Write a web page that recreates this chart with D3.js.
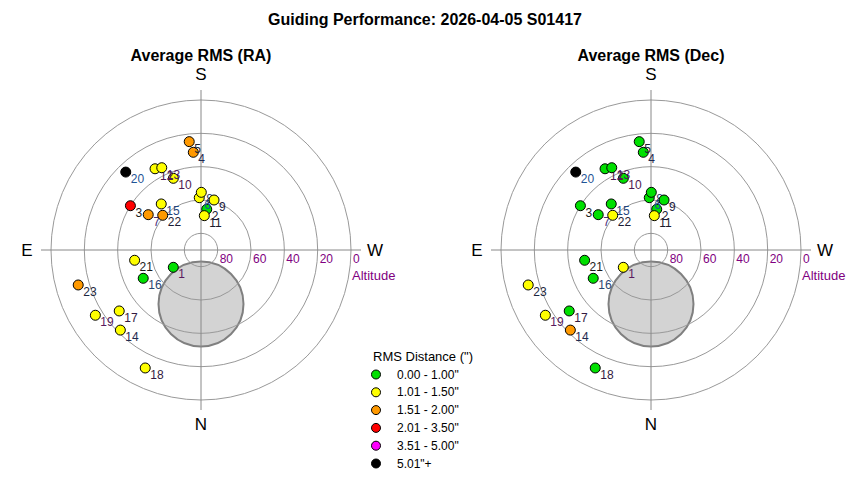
<!DOCTYPE html>
<meta charset="utf-8">
<style>
body { margin: 0; background: #fff; }
text { font-family: Arial, "Liberation Sans", sans-serif; }
</style>
<script src="https://d3js.org/d3.v7.min.js"></script>
<body>
<script>

// guide targets: id, altitude (deg), azimuth (deg, N=0 E=90)
var pointIds = [1,2,3,4,5,6,7,8,9,10,11,12,13,14,15,16,17,18,19,20,21,22,23];
var altitude = [70.4,65.3,40.0,31.2,24.6,58.6,51.9,55.4,59.0,43.9,69.3,34.0,35.3,21.8,53.5,51.4,28.8,11.7,15.5,25.0,49.7,59.0,13.4];
var azimuth  = [58.0,188.0,122.1,175.5,173.8,178.1,123.8,180.3,194.6,158.9,185.5,150.5,154.5,45.2,139.2,63.9,53.3,25.3,58.3,136.0,81.2,132.2,74.1];

// RMS band index per target (0 = best .. 5 = worst)
var raBand  = [0,0,3,2,2,1,2,1,1,1,1,1,1,1,1,0,1,1,1,5,1,2,2];
var decBand = [1,0,0,0,0,0,0,0,0,0,1,0,0,2,0,0,0,0,1,5,0,1,1];

var labelColors = ["#5a1a5e","#1a1a3a","#1a1a1a","#1f2a50","#222230","#1f5596","#4a2f78","#22335e","#22223e","#4e1850",
                   "#1a1a2a","#4e1850","#4e1a5e","#1f2a50","#1f4680","#2a4672","#331a42","#331a42","#5a1a5e","#1f5596",
                   "#1a1a1a","#1a1a34","#1a2640"];

var bandLabels = ['0.00 - 1.00"','1.01 - 1.50"','1.51 - 2.00"','2.01 - 3.50"','3.51 - 5.00"','5.01"+'];
var bandColors = ["#00e000","#ffff00","#ff9900","#ff0000","#ff00ff","#000000"];

var altRings = [80, 60, 40, 20, 0];

// shaded zone
var zoneAlt = 57.6, zoneAz = 0, zoneRadius = 25.5;

var width = 850, height = 480;

var svg = d3.select("body").append("svg")
    .attr("width", width)
    .attr("height", height);

svg.append("text")
    .attr("x", 425).attr("y", 25)
    .attr("text-anchor", "middle")
    .style("font-size", "16px").style("font-weight", "bold")
    .text("Guiding Performance: 2026-04-05 S01417");

var rScale = d3.scaleLinear().domain([90, 0]).range([0, 150]);

function project(alt, az) {
  var r = rScale(alt), a = az * Math.PI / 180;
  return [-r * Math.sin(a), r * Math.cos(a)];
}

function drawPolar(cx, title, bands) {
  var g = svg.append("g").attr("transform", "translate(" + cx + ",250)");

  svg.append("text")
    .attr("x", cx).attr("y", 61)
    .attr("text-anchor", "middle")
    .style("font-size", "16px").style("font-weight", "bold")
    .text(title);

  var zc = project(zoneAlt, zoneAz);
  g.append("circle")
    .attr("cx", zc[0]).attr("cy", zc[1])
    .attr("r", rScale(90 - zoneRadius))
    .attr("fill", "#d3d3d3")
    .attr("stroke", "#808080")
    .attr("stroke-width", 2);

  g.selectAll(".ring")
    .data(altRings)
    .enter().append("circle")
    .attr("r", function(d) { return rScale(d); })
    .attr("fill", "none")
    .attr("stroke", "#999")
    .attr("stroke-width", 1);

  g.append("line").attr("x1", 0).attr("x2", 0).attr("y1", -160).attr("y2", 160)
    .attr("stroke", "#888");
  g.append("line").attr("x1", -160).attr("x2", 160).attr("y1", 0).attr("y2", 0)
    .attr("stroke", "#888");

  g.selectAll(".ringLabel")
    .data(altRings)
    .enter().append("text")
    .attr("x", function(d) { return rScale(d) + 2; })
    .attr("y", 13)
    .attr("fill", "#800080")
    .style("font-size", "12px")
    .text(function(d) { return d; });

  g.append("text")
    .attr("x", 151).attr("y", 30)
    .attr("fill", "#800080")
    .style("font-size", "13px")
    .text("Altitude");

  var dirs = [["S", 0, -170], ["N", 0, 180], ["E", -174, 6], ["W", 174, 6]];
  g.selectAll(".dir")
    .data(dirs)
    .enter().append("text")
    .attr("x", function(d) { return d[1]; })
    .attr("y", function(d) { return d[2]; })
    .attr("text-anchor", "middle")
    .style("font-size", "17px")
    .text(function(d) { return d[0]; });

  var pts = g.selectAll(".pt")
    .data(pointIds)
    .enter().append("g")
    .attr("transform", function(d, i) {
      var p = project(altitude[i], azimuth[i]);
      return "translate(" + p[0] + "," + p[1] + ")";
    });

  pts.append("circle")
    .attr("r", 5)
    .attr("fill", function(d, i) { return bandColors[bands[i]]; })
    .attr("stroke", "#000")
    .attr("stroke-width", 1);

  pts.append("text")
    .attr("x", 5).attr("y", 11)
    .attr("fill", function(d, i) { return labelColors[i]; })
    .style("font-size", "12px")
    .text(function(d) { return d; });
}

drawPolar(201, "Average RMS (RA)", raBand);
drawPolar(651, "Average RMS (Dec)", decBand);

// legend
var legend = svg.append("g").attr("transform", "translate(373,0)");
legend.append("text")
  .attr("x", 0).attr("y", 361)
  .style("font-size", "13px")
  .text('RMS Distance (")');

var rows = legend.selectAll(".row")
  .data(bandLabels)
  .enter().append("g")
  .attr("transform", function(d, i) { return "translate(0," + (374.5 + i * 17.8) + ")"; });

rows.append("circle")
  .attr("cx", 3).attr("r", 4.5)
  .attr("fill", function(d, i) { return bandColors[i]; })
  .attr("stroke", "#000");

rows.append("text")
  .attr("x", 24).attr("y", 4)
  .style("font-size", "12px")
  .text(function(d) { return d; });

</script>
</body>
